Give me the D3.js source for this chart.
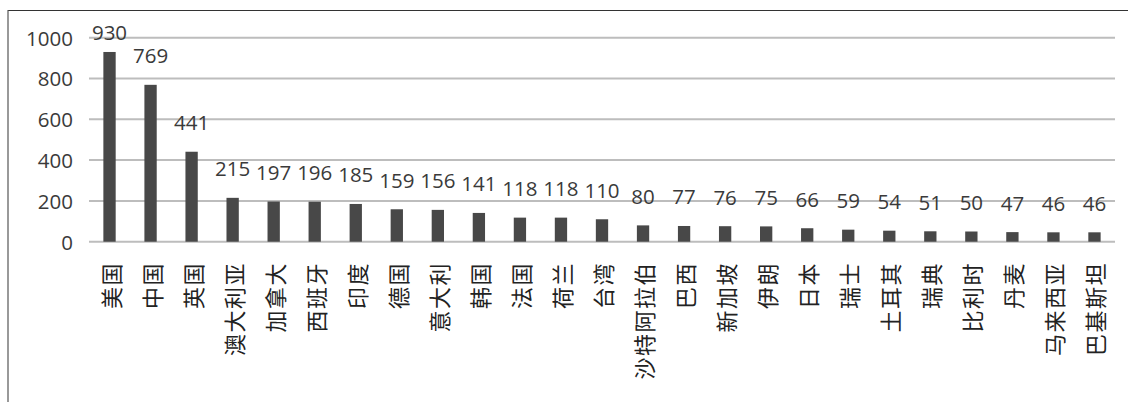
<!DOCTYPE html>
<html>
<head>
<meta charset="utf-8">
<script src="https://cdn.jsdelivr.net/npm/d3@7"></script>
<style>
  html, body { margin: 0; padding: 0; background: #fff; }
  svg { display: block; }
</style>
</head>
<body>
<svg id="chart" width="1128" height="402"></svg>
<script>
// Categories (countries / regions) and their counts
const categories = ["美国", "中国", "英国", "澳大利亚", "加拿大", "西班牙", "印度", "德国", "意大利", "韩国", "法国", "荷兰", "台湾", "沙特阿拉伯", "巴西", "新加坡", "伊朗", "日本", "瑞士", "土耳其", "瑞典", "比利时", "丹麦", "马来西亚", "巴基斯坦"];
const values = [930, 769, 441, 215, 197, 196, 185, 159, 156, 141, 118, 118, 110, 80, 77, 76, 75, 66, 59, 54, 51, 50, 47, 46, 46];
const yTicks = [0, 200, 400, 600, 800, 1000];

const svg = d3.select("#chart");
const W = 1128, H = 402;

// Outer frame: top and left edges
svg.append("line").attr("x1", 8).attr("x2", W).attr("y1", 10.5).attr("y2", 10.5)
  .attr("stroke", "#333").attr("stroke-width", 1.2);
svg.append("line").attr("x1", 8).attr("x2", 8).attr("y1", 10).attr("y2", H)
  .attr("stroke", "#555").attr("stroke-width", 1.2);

const x = d3.scaleBand().domain(categories).range([89, 1115]).paddingInner(0.7).paddingOuter(0.35);
const y = d3.scaleLinear().domain([0, 1000]).range([241.7, 37.7]);

const numFont = "'Open Sans', 'DejaVu Sans', sans-serif";
const textColor = "#3a3a3a";

// Horizontal gridlines
svg.append("g").selectAll("line").data(yTicks).join("line")
  .attr("x1", 89).attr("x2", 1115)
  .attr("y1", d => y(d)).attr("y2", d => y(d))
  .attr("stroke", "#bdbdbd").attr("stroke-width", 2);

// Y axis tick labels
const yAxis = d3.axisLeft(y).tickValues(yTicks).tickFormat(d3.format("d")).tickSize(0).tickPadding(0);
const gy = svg.append("g").attr("transform", "translate(73,0)").call(yAxis);
gy.select(".domain").remove();
gy.selectAll("text")
  .attr("font-family", numFont).attr("font-size", 20.5).attr("fill", textColor)
  .attr("dy", "0.36em");

// Bars
svg.append("g").selectAll("rect").data(values).join("rect")
  .attr("x", (d, i) => x(categories[i]))
  .attr("width", x.bandwidth())
  .attr("y", d => y(d))
  .attr("height", d => y(0) - y(d))
  .attr("fill", "#484848");

// Value labels above bars, kept inside the plot area
svg.append("g").selectAll("text").data(values).join("text")
  .attr("x", (d, i) => x(categories[i]) + x.bandwidth() / 2)
  .attr("y", d => Math.max(y(d) - 21.5, 40))
  .attr("text-anchor", "middle")
  .attr("font-family", numFont).attr("font-size", 20.5).attr("fill", textColor)
  .text(d => d);

// Category labels, rotated to read bottom-to-top
const xAxis = d3.axisBottom(x).tickSize(0).tickPadding(0);
const gx = svg.append("g").attr("transform", "translate(0,262)").call(xAxis);
gx.select(".domain").remove();
gx.selectAll("text")
  .attr("font-family", "'Noto Sans CJK SC', sans-serif")
  .attr("font-size", 22)
  .attr("font-weight", 400)
  .attr("fill", "#222")
  .attr("letter-spacing", "1.5px")
  .attr("text-anchor", "end")
  .attr("dominant-baseline", "central")
  .attr("dy", null)
  .attr("y", 0)
  .attr("transform", "rotate(-90)");
</script>
</body>
</html>
